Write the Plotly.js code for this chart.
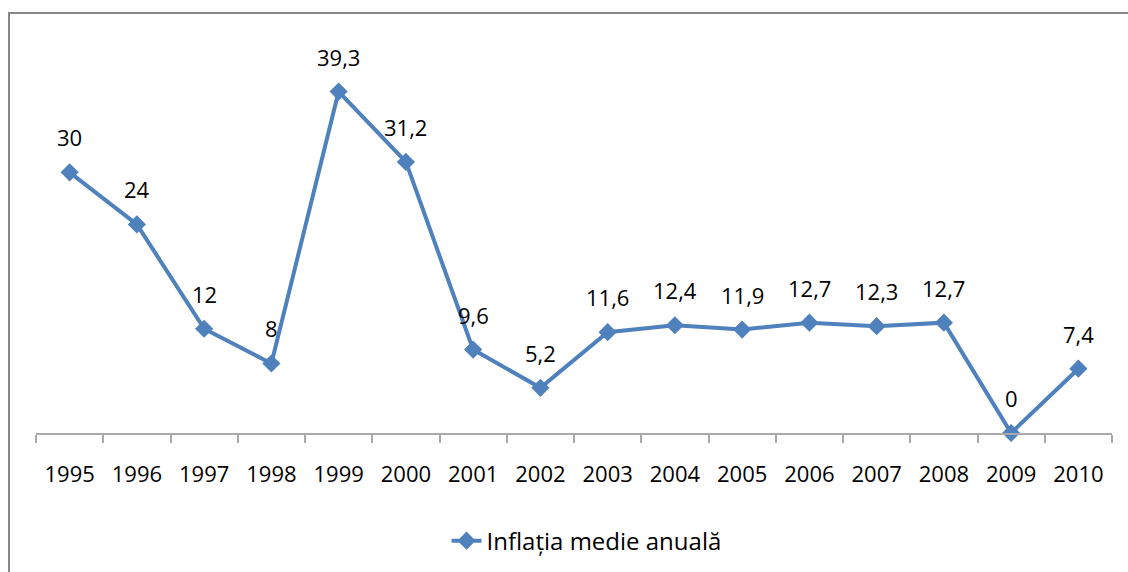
<!DOCTYPE html>
<html>
<head>
<meta charset="utf-8">
<script src="https://cdn.plot.ly/plotly-3.0.1.min.js"></script>
<style>
  html, body { margin: 0; padding: 0; background: #fff; }
  #wrap { position: relative; width: 1128px; height: 572px; overflow: hidden; }
  #chart { position: absolute; left: 0; top: 0; width: 1128px; height: 572px; }
  #frame { position: absolute; left: 8px; top: 12px; width: 1130px; height: 580px;
           border-top: 2px solid #888; border-left: 2px solid #888; pointer-events: none; }
</style>
</head>
<body>
<div id="wrap">
  <div id="chart"></div>
  <div id="frame"></div>
</div>
<script>
const years = ["1995","1996","1997","1998","1999","2000","2001","2002","2003","2004","2005","2006","2007","2008","2009","2010"];
const inflation = [30, 24, 12, 8, 39.3, 31.2, 9.6, 5.2, 11.6, 12.4, 11.9, 12.7, 12.3, 12.7, 0, 7.4];
const seriesName = "Inflația medie anuală";

const fontFam = "'Open Sans', 'Noto Sans', sans-serif";
const blue = "#4F81BD";

const fmt = v => String(v).replace('.', ',');

const annotations = years.map((y, i) => ({
  x: i, y: inflation[i], xref: 'x', yref: 'y',
  text: fmt(inflation[i]), showarrow: false,
  yanchor: 'middle', yshift: 35,
  font: {family: fontFam, size: 22, color: '#000'}
}));

const trace = {
  x: years, y: inflation, type: 'scatter', mode: 'lines+markers',
  name: seriesName,
  line: {color: blue, width: 4},
  marker: {symbol: 'diamond', size: 14, color: blue},
  cliponaxis: false
};

const layout = {
  width: 1128, height: 572,
  margin: {l: 36, r: 16, t: 42, b: 139},
  paper_bgcolor: '#fff', plot_bgcolor: '#fff',
  font: {family: fontFam, size: 20, color: '#000'},
  showlegend: true,
  legend: {orientation: 'h', xref: 'container', yref: 'container',
           x: 0.52, xanchor: 'center', y: 0.054, yanchor: 'middle',
           font: {family: fontFam, size: 24, color: '#000'}},
  xaxis: {type: 'category', categoryorder: 'array', categoryarray: years,
          range: [-0.5, years.length - 0.5], autorange: false,
          showline: true, linecolor: '#aaa', linewidth: 2, tickangle: 0,
          ticks: 'outside', tickson: 'boundaries', ticklen: 8, tickcolor: '#aaa', tickwidth: 2,
          ticklabelstandoff: 21,
          showgrid: false, zeroline: false, fixedrange: true,
          tickfont: {family: fontFam, size: 22, color: '#000'}},
  yaxis: {range: [0, 45], autorange: false, visible: false, showgrid: false, zeroline: false, fixedrange: true},
  annotations: annotations
};

Plotly.newPlot('chart', [trace], layout, {displayModeBar: false, staticPlot: true});
</script>
</body>
</html>
